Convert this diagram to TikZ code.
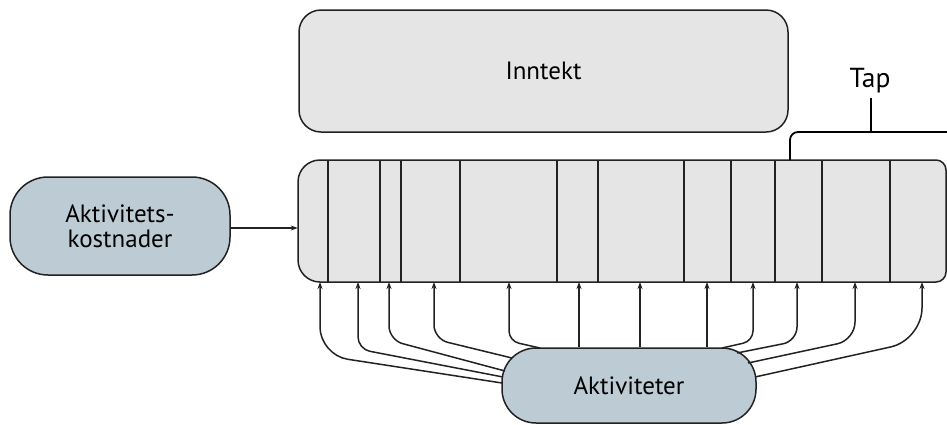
\documentclass[tikz,border=0pt]{standalone}
\usepackage{fontspec}
\setmainfont{PT Sans}
\usetikzlibrary{arrows.meta}

\definecolor{boxgray}{RGB}{229,229,229}
\definecolor{boxblue}{RGB}{189,203,212}
\definecolor{edge}{RGB}{34,34,34}

\tikzset{
  graybox/.style={draw=edge, line width=1.5pt, fill=boxgray, rounded corners=22pt,
    inner sep=0pt, font=\fontsize{25}{25}\selectfont},
  bluebox/.style={draw=edge, line width=1.5pt, fill=boxblue, inner sep=0pt,
    align=center, font=\fontsize{25}{25}\selectfont},
  conn/.style={draw=edge, line width=1.5pt, -{Stealth[length=7pt,width=5pt]}},
  bracket/.style={draw=black, line width=1.8pt},
  divider/.style={draw=edge, line width=1.2pt},
}

\begin{document}
\begin{tikzpicture}[x=1pt, y=1pt]
  \useasboundingbox (0,0) rectangle (947,-424);

  % revenue box
  \node[graybox, minimum width=489pt, minimum height=122pt] (inntekt) at (543.5,-71) {Inntekt};

  % activity cost source
  \node[bluebox, rounded corners=38pt, minimum width=220pt, minimum height=98pt]
    (kost) at (120,-226) {Aktivitets-\\kostnader};

  % segmented bar of cost objects
  \node[minimum width=648pt, minimum height=122pt, inner sep=0pt] (bar) at (622,-221) {};
  \path[fill=boxgray] (320,-160) -- (936,-160) arc[start angle=90, end angle=0, radius=10pt]
    -- (946,-272) arc[start angle=0, end angle=-90, radius=10pt]
    -- (320,-282) arc[start angle=-90, end angle=-180, radius=22pt]
    -- (298,-182) arc[start angle=180, end angle=90, radius=22pt] -- cycle;
  \foreach \x in {328,380,401,460,557,598,684,731,775,822,890}
    \draw[divider] (\x,-160) -- (\x,-282);
  \draw[draw=edge, line width=1.5pt] (320,-160) -- (936,-160) arc[start angle=90, end angle=0, radius=10pt]
    -- (946,-272) arc[start angle=0, end angle=-90, radius=10pt]
    -- (320,-282) arc[start angle=-90, end angle=-180, radius=22pt]
    -- (298,-182) arc[start angle=180, end angle=90, radius=22pt] -- cycle;

  % activities
  \node[bluebox, rounded corners=34pt, minimum width=254pt, minimum height=75pt]
    (akt) at (629,-385.5) {Aktiviteter};

  % loss label and bracket
  \node[font=\fontsize{27.5}{28}\selectfont, inner sep=0pt] (tap) at (870,-81) {Tap};
  \coordinate (tapjoin) at (871,-132);
  \coordinate (tapend) at (950,-132);
  \coordinate (tapfoot) at (790,-160);
  \draw[bracket] (871,-98) -- (tapjoin);
  \draw[bracket, rounded corners=8pt] (tapfoot) -- (790,-132) -- (tapend);

  % cost flow into the bar
  \draw[conn] (kost.east |- 0,-228) -- (bar.west |- 0,-228);

  % activity drivers into the bar segments
  \foreach \sx/\sy/\tx/\cy/\r in {
      502/-383/320/-355/28,
      503/-377/358/-349/12,
      505/-371/389/-340/14,
      512/-358/434/-339/14,
      540/-348/509/-341/10,
      722/-348/753/-341/10,
      737/-353/797/-341/14,
      748/-363/855/-340/18,
      755/-377/922/-340/32}
  {
    \coordinate (s) at (\sx,\sy);
    \coordinate (t) at (\tx,-282);
    \draw[conn, rounded corners=\r pt] (s) -- (\tx,\cy) -- (t);
  }
  \foreach \tx in {579,640,707}
  {
    \coordinate (t) at (\tx,-282);
    \draw[conn] (akt.north -| t) -- (t);
  }
\end{tikzpicture}
\end{document}
